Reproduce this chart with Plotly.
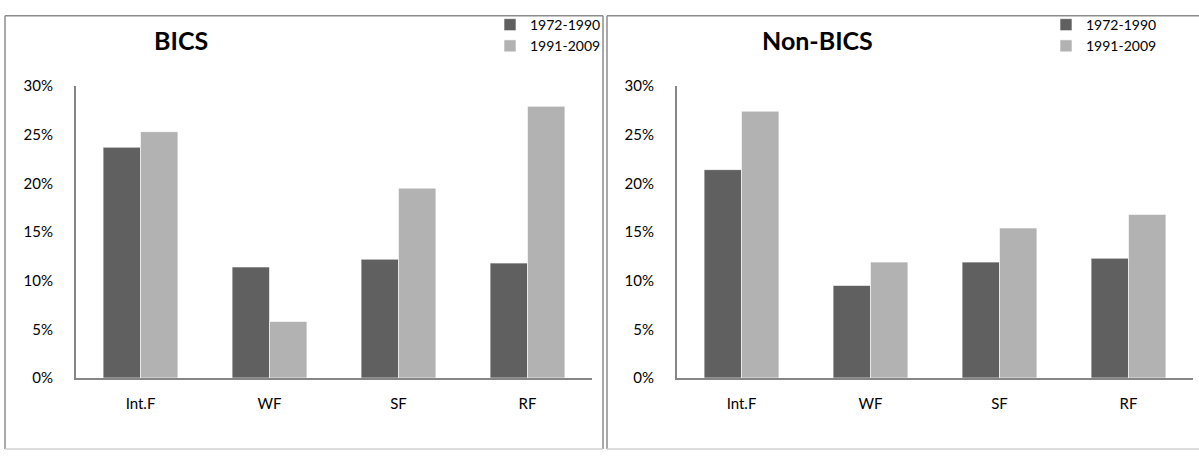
import plotly.graph_objects as go

# Category labels and period names
categories = ["Int.F", "WF", "SF", "RF"]
periods = ["1972-1990", "1991-2009"]

# Shares per category (fractions)
bics_1972_1990 = [0.237, 0.114, 0.122, 0.118]
bics_1991_2009 = [0.253, 0.058, 0.195, 0.279]
non_bics_1972_1990 = [0.214, 0.095, 0.119, 0.123]
non_bics_1991_2009 = [0.274, 0.119, 0.154, 0.168]

panel_titles = ["BICS", "Non-BICS"]

W, H = 1199, 459
DARK = "#606060"
LIGHT = "#b2b2b2"
AXIS = "#868686"
FONT = "Lato, 'Open Sans', sans-serif"


def px_x(x):
    return x / W


def px_y(y):
    return 1 - y / H


fig = go.Figure()

panels = [
    dict(xa="x", ya="y", legend="legend", d1=bics_1972_1990, d2=bics_1991_2009),
    dict(xa="x2", ya="y2", legend="legend2", d1=non_bics_1972_1990, d2=non_bics_1991_2009),
]

for p in panels:
    for name, vals, col in [(periods[0], p["d1"], DARK), (periods[1], p["d2"], LIGHT)]:
        fig.add_trace(go.Bar(
            x=categories, y=vals, name=name,
            marker=dict(color=col, line=dict(color="white", width=0.6)),
            xaxis=p["xa"], yaxis=p["ya"], legend=p["legend"],
            hoverinfo="skip",
        ))

top_y, zero_y = 79, 383

tick_font = dict(family=FONT, size=15, color="#000")


def x_axis(left, right, anchor):
    return dict(domain=[px_x(left), px_x(right)], anchor=anchor, showline=True,
                linecolor=AXIS, linewidth=2, showgrid=False, zeroline=False,
                ticks="", tickfont=tick_font, ticklabelstandoff=11)


def y_axis(anchor):
    return dict(domain=[px_y(zero_y), px_y(top_y)], anchor=anchor, range=[0, 0.30],
                dtick=0.05, tickformat=".0%", showline=True, linecolor=AXIS,
                linewidth=2, showgrid=False, zeroline=False, ticks="",
                tickfont=tick_font, ticklabelstandoff=18)


legend_style = dict(xanchor="left", yanchor="top",
                    font=dict(family=FONT, size=14, color="#000"),
                    bgcolor="rgba(0,0,0,0)", itemwidth=30, tracegroupgap=0)

fig.update_layout(
    width=W, height=H,
    margin=dict(l=0, r=0, t=0, b=0),
    paper_bgcolor="white", plot_bgcolor="white",
    barmode="group", bargap=0.42, bargroupgap=0,
    font=dict(family=FONT, color="#000"),
    xaxis=x_axis(76, 592, "y"),
    yaxis=y_axis("x"),
    xaxis2=x_axis(677, 1193, "y2"),
    yaxis2=y_axis("x2"),
    legend=dict(x=px_x(490), y=px_y(-1), **legend_style),
    legend2=dict(x=px_x(1046), y=px_y(-1), **legend_style),
)

# Panel titles
for title, cx in zip(panel_titles, [181, 817]):
    fig.add_annotation(text=f"<b>{title}</b>", x=px_x(cx), y=px_y(31),
                       xref="paper", yref="paper", showarrow=False,
                       xanchor="center", yanchor="middle",
                       font=dict(family=FONT, size=25, color="#000"))

# Chart frames: darker top/left/right edges, lighter bottom edge
for x0, x1 in [(5, 603), (607, 1201)]:
    for (ax, ay, bx, by, col) in [
        (x0, 6, x1, 6, "#8c8c8c"),
        (x0, 6, x0, 457, "#8c8c8c"),
        (x1, 6, x1, 457, "#8c8c8c"),
        (x0, 457, x1, 457, "#d0d0d0"),
    ]:
        fig.add_shape(type="line", xref="paper", yref="paper",
                      x0=px_x(ax), y0=px_y(ay), x1=px_x(bx), y1=px_y(by),
                      line=dict(color=col, width=1.5), layer="below")

fig.write_html("out.html")
